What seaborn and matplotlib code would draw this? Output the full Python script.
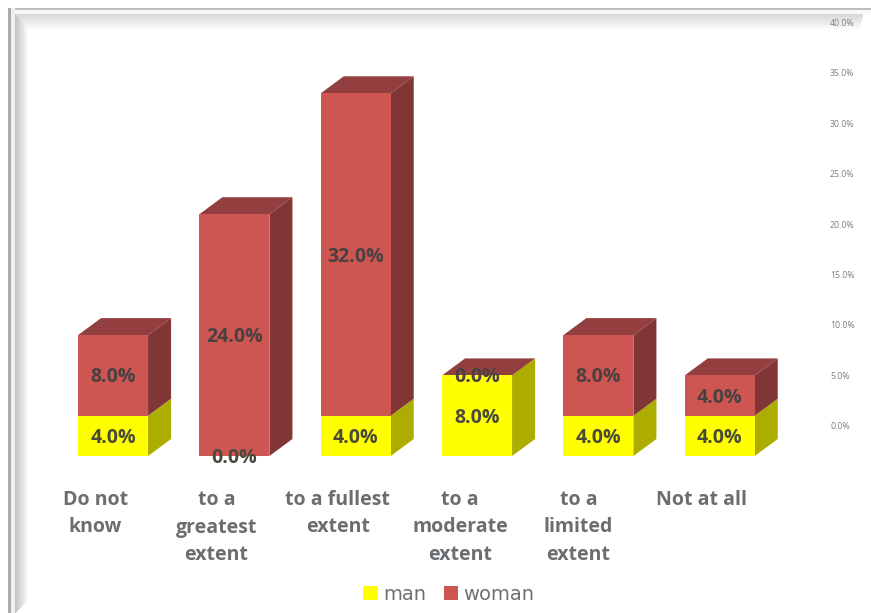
import numpy as np
import pandas as pd
import seaborn as sns
import matplotlib
matplotlib.use("Agg")
import matplotlib.pyplot as plt
from matplotlib.patches import Polygon

# Survey responses, percent of respondents
categories = ["Do not\nknow", "to a\ngreatest\nextent", "to a fullest\nextent",
              "to a\nmoderate\nextent", "to a\nlimited\nextent", "Not at all"]
man = [4.0, 0.0, 4.0, 8.0, 4.0, 4.0]
woman = [8.0, 24.0, 32.0, 0.0, 8.0, 4.0]
axis_ticks = [0, 5, 10, 15, 20, 25, 30, 35, 40]

# Colours for each visible face of the blocks
MAN_FRONT, MAN_SIDE = "#ffff00", "#adad00"
WOMAN_FRONT, WOMAN_SIDE, WOMAN_TOP = "#cd5652", "#813535", "#943f3f"

W, H = 871, 613
sns.set_theme(style="white")
plt.rcParams["font.family"] = ["Open Sans", "DejaVu Sans"]
fig = plt.figure(figsize=(W / 100, H / 100), dpi=100, facecolor="white")

# Bevelled frame along the top and left edges
bg = fig.add_axes([0, 0, 1, 1], zorder=0)
frame = np.full((H, W), 255.0)
for x in range(15, 29):
    frame[14:, x] = 195 + (x - 15) * 60 / 13
for y in range(14, 31):
    row = 215 + (y - 14) * 40 / 16
    right = 862 - (y - 14) // 4
    frame[y, max(15, y + 1):right] = row
frame[8:10, 9:] = 190
frame[10:14, 11:] = 248
frame[8:, 8:11] = 170
frame[8:, 11:15] = 240
for y in range(598, H):
    frame[y, 15 + (H - y):] = 255
bg.imshow(frame, cmap="gray", vmin=0, vmax=255, aspect="auto",
          extent=(0, W, H, 0), interpolation="bilinear")
bg.axis("off")

# Bar axes: zero sits on the front edge of the blocks
left, right, top, bottom = 52.4, 780.4, 10, 470
pos = [left / W, 1 - bottom / H, (right - left) / W, (bottom - top) / H]
ppu = 10.075
ax = fig.add_axes(pos, zorder=2, facecolor="none")

df = pd.DataFrame({"category": categories, "man": man, "woman": woman})
bar_width = 0.577
sns.barplot(data=df, x="category", y="man", color=MAN_FRONT, saturation=1,
            width=bar_width, label="man", ax=ax, zorder=3, linewidth=0)
sns.barplot(data=df, x="category", y="woman", bottom=df["man"], color=WOMAN_FRONT,
            saturation=1, width=bar_width, label="woman", ax=ax, zorder=3, linewidth=0)
ax.set_xlim(-0.5, 5.5)
ax.set_ylim((456 - bottom) / ppu, (456 - top) / ppu)

# Depth of the extruded block faces, in data units
dx = 23 / 121.33
dy = 17 / ppu
hw = bar_width / 2
for i, (m, w) in enumerate(zip(man, woman)):
    xr = i + hw
    if m > 0:
        ax.add_patch(Polygon([(xr, 0), (xr + dx, dy), (xr + dx, m + dy), (xr, m)],
                             fc=MAN_SIDE, ec="none", zorder=2))
    if w > 0:
        ax.add_patch(Polygon([(xr, m), (xr + dx, m + dy), (xr + dx, m + w + dy), (xr, m + w)],
                             fc=WOMAN_SIDE, ec="none", zorder=2))
    t = m + w
    ax.add_patch(Polygon([(i - hw, t), (xr, t), (xr + dx, t + dy), (i - hw + dx, t + dy)],
                         fc=WOMAN_TOP, ec="none", zorder=2))

# Value labels centred on each stacked segment
for i, (m, w) in enumerate(zip(man, woman)):
    ax.annotate(f"{m:.1f}%", xy=(i, m / 2), xytext=(0, -1.5), textcoords="offset points",
                ha="center", va="center", fontsize=14, fontweight="bold",
                color="#4a4a3a", zorder=5)
    ax.annotate(f"{w:.1f}%", xy=(i, m + w / 2), xytext=(0, -1.5), textcoords="offset points",
                ha="center", va="center", fontsize=14, fontweight="bold",
                color="#4a4040", zorder=5)

# Category captions sit slightly left of their blocks
ax.set_xticks(range(len(categories)))
ax.set_xticklabels([])
ax.tick_params(length=0)
ax.set_xlabel("")
ax.set_ylabel("")
ax.set_yticks([])
caption_shift = [-18, -18, -18, -17, -20, -18]
for i, (label, shift) in enumerate(zip(categories, caption_shift)):
    ax.annotate(label, xy=(i, 0), xytext=(shift * 0.72, -(490 - 456) * 0.72),
                textcoords="offset points", ha="center", va="top", fontsize=14,
                fontweight="bold", color="#6b6e70", linespacing=1.5, zorder=5)
sns.despine(ax=ax, left=True, bottom=True)

# Percent scale on the back wall, offset upward from the blocks
ax2 = ax.twinx()
ax2.set_ylim((425.5 - bottom) / ppu, (425.5 - top) / ppu)
ax2.set_yticks(axis_ticks)
ax2.set_yticklabels([f"{v:.1f}%" for v in axis_ticks], ha="left", fontsize=6.3,
                    color="#7f7f7f")
ax2.tick_params(axis="y", length=0, pad=(830 - right) * 0.72)
ax2.grid(False)
sns.despine(ax=ax2, left=True, right=True, bottom=True)
ax2.patch.set_visible(False)

handles, labels = ax.get_legend_handles_labels()
leg = ax.legend(handles, labels, loc="center", ncol=2, frameon=False,
                bbox_to_anchor=(449 / W, 1 - 594 / H), bbox_transform=fig.transFigure,
                handlelength=0.75, handleheight=0.75, handletextpad=0.27, columnspacing=0.9,
                prop={"family": "DejaVu Sans", "size": 14})
for t in leg.get_texts():
    t.set_color("#6e7072")

fig.savefig("out.png", dpi=100)
